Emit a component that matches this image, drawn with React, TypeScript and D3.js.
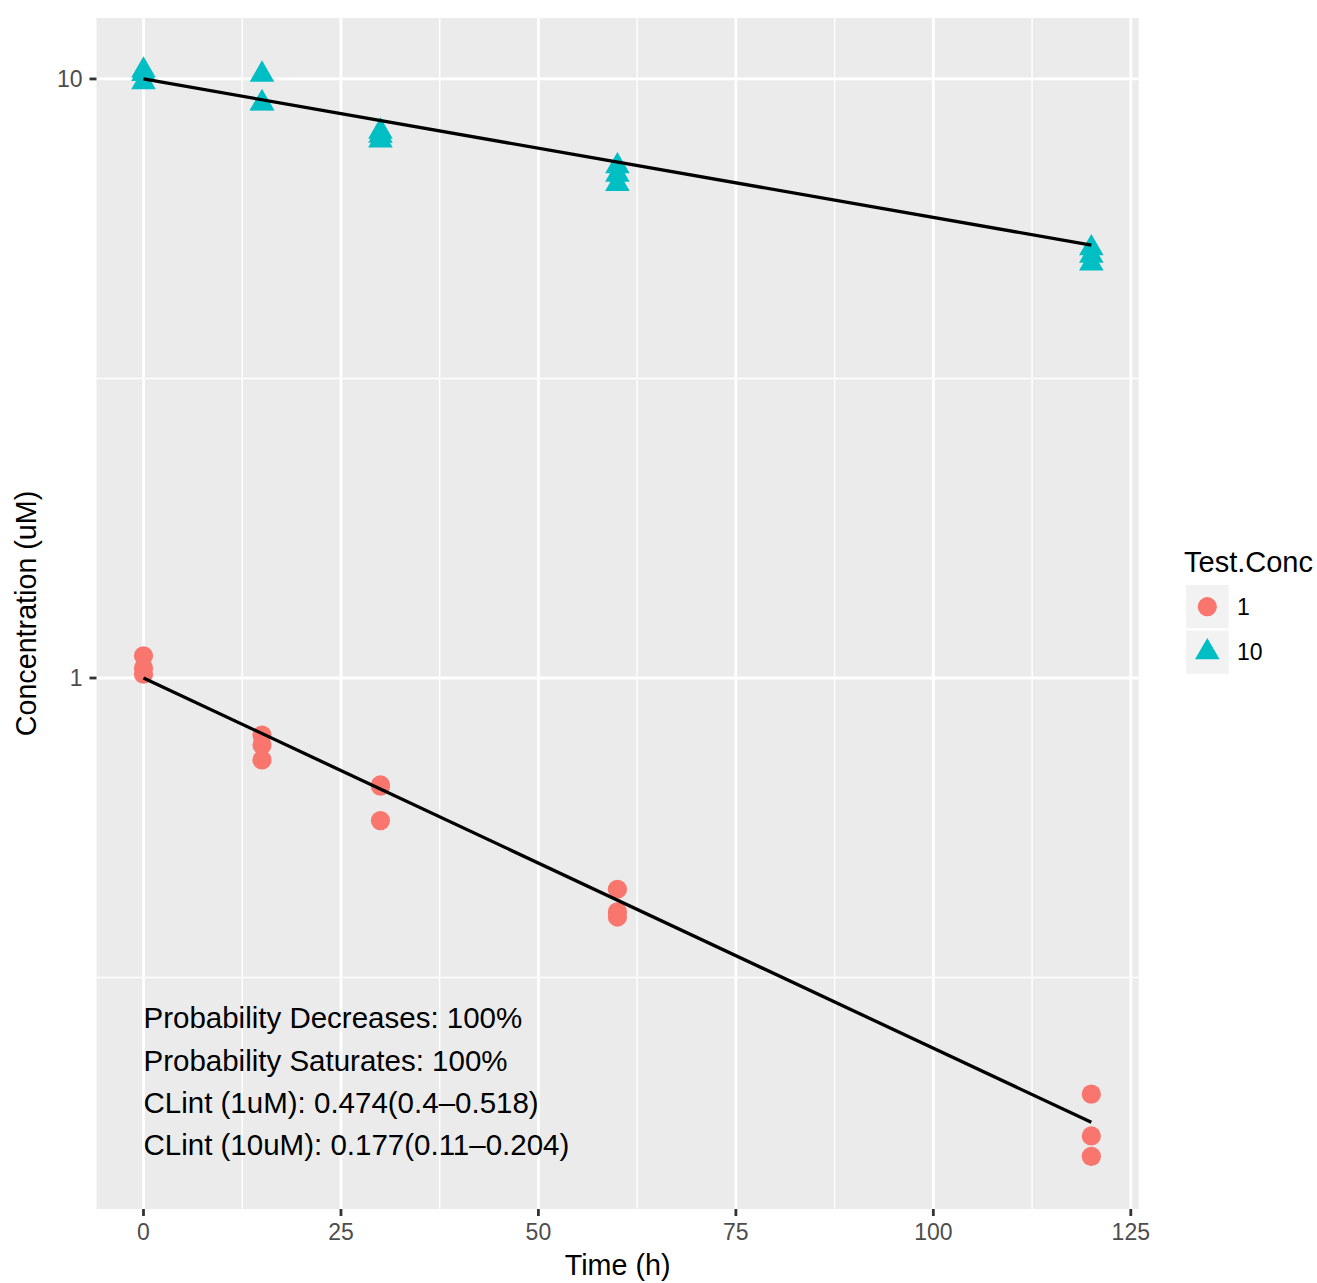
import React from "react";
import * as d3 from "d3";

const times = [0, 0, 0, 15, 15, 15, 30, 30, 30, 60, 60, 60, 120, 120, 120];
const conc1 = [1.089, 1.039, 1.015, 0.803, 0.773, 0.730, 0.663, 0.660, 0.578, 0.444, 0.407, 0.399, 0.202, 0.172, 0.159];
const conc10 = [10.33, 10.2, 9.88, 10.17, 9.11, 9.1, 8.17, 8.04, 7.9, 7.15, 6.92, 6.68, 5.22, 5.07, 4.92];
const fitTimes = [0, 120];
const fit1 = [1, 0.1813];
const fit10 = [10, 5.28];
const xTicks = [0, 25, 50, 75, 100, 125];
const xMinor = [12.5, 37.5, 62.5, 87.5, 112.5];
const yTicks = [1, 10];
const yTickLabels = ["1", "10"];
const yMinor = [Math.sqrt(0.1), Math.sqrt(10)];
const legendTitle = "Test.Conc";
const legendLabels = ["1", "10"];
const colors = ["#F8766D", "#00BFC4"];
const annotations = [
  "Probability Decreases: 100%",
  "Probability Saturates: 100%",
  "CLint (1uM): 0.474(0.4\u20130.518)",
  "CLint (10uM): 0.177(0.11\u20130.204)",
];
const annotationY = [0.2707, 0.2294, 0.1952, 0.1661];

const W = 1317;
const H = 1283;
const panel = { left: 96.5, right: 1138.7, top: 18, bottom: 1209 };
const FONT = "'Liberation Sans', Arial, Helvetica, sans-serif";

function triPath(cx: number, cy: number, r: number) {
  const h = (Math.sqrt(3) / 2) * r;
  return `M${cx},${cy - r}L${cx + h},${cy + r / 2}L${cx - h},${cy + r / 2}Z`;
}

export default function App() {
  const x = d3.scaleLinear().domain([-5.95, 126.0]).range([panel.left, panel.right]);
  const y = d3.scaleLog().domain([0.1299, 12.64]).range([panel.bottom, panel.top]);
  const line = d3
    .line<[number, number]>()
    .x((d) => x(d[0]))
    .y((d) => y(d[1]));
  const r = 9.6;
  const tr = 14.2;
  return (
    <svg width={W} height={H} style={{ position: "absolute", left: 0, top: 0, background: "#fff" }}>
      <rect x={0} y={0} width={W} height={H} fill="#fff" />
      <rect
        x={panel.left}
        y={panel.top}
        width={panel.right - panel.left}
        height={panel.bottom - panel.top}
        fill="#EBEBEB"
      />
      {xMinor.map((v) => (
        <line key={"xm" + v} x1={x(v)} x2={x(v)} y1={panel.top} y2={panel.bottom} stroke="#fff" strokeWidth={1.4} />
      ))}
      {yMinor.map((v) => (
        <line key={"ym" + v} x1={panel.left} x2={panel.right} y1={y(v)} y2={y(v)} stroke="#fff" strokeWidth={1.4} />
      ))}
      {xTicks.map((v) => (
        <line key={"xM" + v} x1={x(v)} x2={x(v)} y1={panel.top} y2={panel.bottom} stroke="#fff" strokeWidth={2.8} />
      ))}
      {yTicks.map((v) => (
        <line key={"yM" + v} x1={panel.left} x2={panel.right} y1={y(v)} y2={y(v)} stroke="#fff" strokeWidth={2.8} />
      ))}
      {times.map((t, i) => (
        <circle key={"c" + i} cx={x(t)} cy={y(conc1[i])} r={r} fill={colors[0]} />
      ))}
      {times.map((t, i) => (
        <path key={"t" + i} d={triPath(x(t), y(conc10[i]), tr)} fill={colors[1]} />
      ))}
      <path d={line(fitTimes.map((t, i) => [t, fit1[i]] as [number, number])) || ""} fill="none" stroke="#000" strokeWidth={3.3} />
      <path d={line(fitTimes.map((t, i) => [t, fit10[i]] as [number, number])) || ""} fill="none" stroke="#000" strokeWidth={3.3} />
      {annotations.map((a, i) => (
        <text key={"a" + i} x={x(0)} y={y(annotationY[i])} dy="0.35em" fontFamily={FONT} fontSize={29.5} fill="#000">
          {a}
        </text>
      ))}
      {xTicks.map((v) => (
        <g key={"xt" + v}>
          <line x1={x(v)} x2={x(v)} y1={panel.bottom} y2={panel.bottom + 7} stroke="#333333" strokeWidth={2.8} />
          <text x={x(v)} y={1240} textAnchor="middle" fontFamily={FONT} fontSize={23} fill="#4D4D4D">
            {v}
          </text>
        </g>
      ))}
      {yTicks.map((v, i) => (
        <g key={"yt" + v}>
          <line x1={panel.left - 7} x2={panel.left} y1={y(v)} y2={y(v)} stroke="#333333" strokeWidth={2.8} />
          <text x={panel.left - 14} y={y(v)} dy="0.36em" textAnchor="end" fontFamily={FONT} fontSize={23} fill="#4D4D4D">
            {yTickLabels[i]}
          </text>
        </g>
      ))}
      <text x={(panel.left + panel.right) / 2} y={1275} textAnchor="middle" fontFamily={FONT} fontSize={28.7} fill="#000">
        Time (h)
      </text>
      <text
        transform={`translate(36,${(panel.top + panel.bottom) / 2}) rotate(-90)`}
        textAnchor="middle"
        fontFamily={FONT}
        fontSize={28.7}
        fill="#000"
      >
        Concentration (uM)
      </text>
      <text x={1184} y={572} fontFamily={FONT} fontSize={29} fill="#000">
        {legendTitle}
      </text>
      {legendLabels.map((l, i) => {
        const ky = 585 + i * 45.5;
        return (
          <g key={"lg" + i}>
            <rect x={1186} y={ky} width={42.7} height={43.3} fill="#F2F2F2" />
            {i === 0 ? (
              <circle cx={1207.3} cy={ky + 21.7} r={r} fill={colors[0]} />
            ) : (
              <path d={triPath(1207.3, ky + 21.7, tr)} fill={colors[1]} />
            )}
            <text x={1237} y={ky + 21.7} dy="0.36em" fontFamily={FONT} fontSize={23} fill="#000">
              {l}
            </text>
          </g>
        );
      })}
    </svg>
  );
}
